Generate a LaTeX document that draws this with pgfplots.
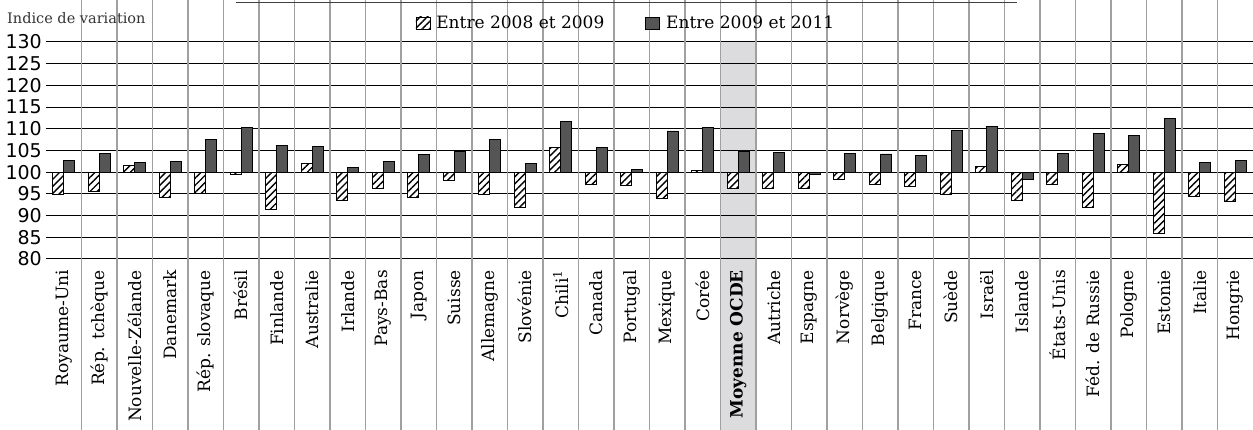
\documentclass[border=0pt]{standalone}
\usepackage{fontspec}
\setmainfont{DejaVu Serif}
\newfontfamily\numfont{DejaVu Sans}
\usepackage{pgfplots}
\usepackage{pgfplotstable}
\pgfplotsset{compat=1.18}
\usetikzlibrary{patterns.meta}
\definecolor{bardark}{HTML}{555555}
\definecolor{sepgray}{HTML}{A0A0A0}
\definecolor{bandgray}{HTML}{DCDCDE}

\pgfplotsset{sqlegend/.style={legend image code/.code={\draw[##1] (0pt,-6pt) rectangle (14pt,6pt);}}}

% indice de variation : h = entre 2008 et 2009, d = entre 2009 et 2011
\pgfplotstableread{
i h d
0 94.9 102.8
1 95.5 104.3
2 101.6 102.3
3 94.3 102.5
4 95.1 107.5
5 99.6 110.4
6 91.4 106.1
7 102.0 105.9
8 93.5 101.1
9 96.3 102.5
10 94.3 104.1
11 98.0 104.8
12 94.9 107.5
13 92.0 102.0
14 105.8 111.7
15 97.2 105.8
16 97.0 100.6
17 94.0 109.5
18 100.3 110.3
19 96.2 104.9
20 96.2 104.6
21 96.2 99.6
22 98.3 104.3
23 97.2 104.2
24 96.8 103.8
25 94.9 109.7
26 101.3 110.5
27 93.4 98.4
28 97.2 104.4
29 92.0 109.0
30 101.7 108.5
31 85.9 112.4
32 94.4 102.2
33 93.2 102.7
}\datatable

\begin{document}
\begin{tikzpicture}
\begin{axis}[
  at={(0pt,0pt)}, anchor=south west,
  set layers, clip=false,
  scale only axis, width=1207pt, height=217pt,
  xmin=-0.5, xmax=33.5, ymin=-20, ymax=30,
  ybar=0pt, bar width=0.31,
  axis line style={draw=none},
  major tick length=0pt,
  xtick={0,...,33},
  xticklabels={Royaume-Uni, Rép. tchèque, Nouvelle-Zélande, Danemark, Rép. slovaque, Brésil, Finlande, Australie, Irlande, Pays-Bas, Japon, Suisse, Allemagne, Slovénie, Chili\textsuperscript{1}, Canada, Portugal, Mexique, Corée, {\bfseries Moyenne OCDE}, Autriche, Espagne, Norvège, Belgique, France, Suède, Israël, Islande, États-Unis, Féd. de Russie, Pologne, Estonie, Italie, Hongrie},
  xticklabel style={rotate=90, anchor=east, font=\fontsize{17}{20}\selectfont, inner sep=0pt},
  xticklabel shift=11pt,
  ytick={-20,-15,...,30},
  yticklabel={\pgfmathparse{int(\tick+100)}\pgfmathresult},
  yticklabel style={font=\numfont\fontsize{19}{22}\selectfont, inner sep=0pt, xshift=-4pt},
  ymajorgrids, y grid style={black, line width=1pt},
  extra x ticks={0.5,1.5,...,32.5},
  extra x tick labels={},
  extra x tick style={grid=major, major grid style={sepgray, line width=1.2pt},
    tick align=outside, major tick length=171pt, tick style={sepgray, line width=1.2pt}},
  legend columns=2,
  legend style={at={(0.306,1.0876)}, anchor=west, draw=none, fill=none, inner sep=0pt,
    font=\fontsize{17}{20}\selectfont,
    /tikz/every odd column/.append style={column sep=4pt},
    /tikz/every even column/.append style={column sep=39pt}},
]
\begin{pgfonlayer}{axis background}
\fill[bandgray] (axis cs:18.5,30) rectangle ([yshift=-171pt]axis cs:19.5,-20);
\end{pgfonlayer}
\addplot[draw=black, line width=0.8pt, fill=white,
  postaction={pattern={Lines[angle=45, distance=5pt, line width=1.4pt]}},
  y filter/.expression={y-100}, sqlegend]
  table[x=i, y=h] {\datatable};
\addlegendentry{Entre 2008 et 2009}
\addplot[draw=black, line width=0.8pt, fill=bardark,
  y filter/.expression={y-100}, sqlegend]
  table[x=i, y=d] {\datatable};
\addlegendentry{Entre 2009 et 2011}
\end{axis}
\draw[black!75, line width=1pt] (190pt,256pt) -- (971pt,256pt);
\node[anchor=west, inner sep=0pt, text=black!80, font=\fontsize{14.5}{17}\selectfont] at (-39pt,241pt) {Indice de variation};
\pgfresetboundingbox
\path[use as bounding box] (-46pt,-171pt) rectangle (1207pt,259pt);
\end{tikzpicture}
\end{document}
